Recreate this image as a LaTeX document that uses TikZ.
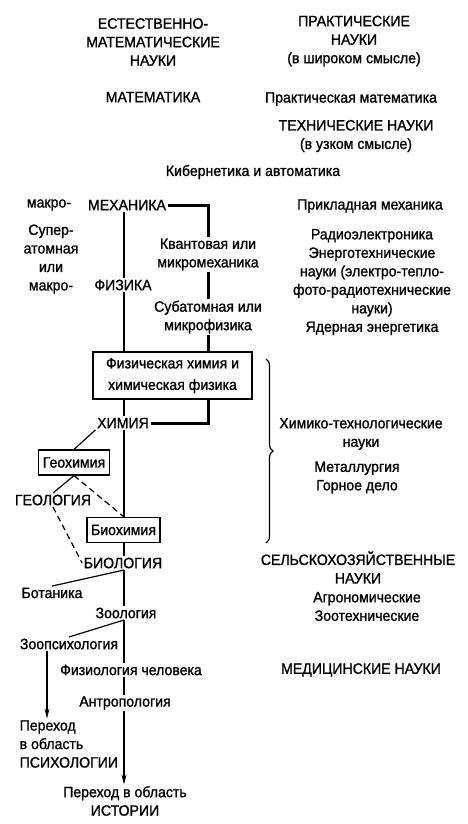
\documentclass[tikz,border=0pt]{standalone}
\usepackage{fontspec}
\setmainfont{Liberation Sans}[FakeStretch=0.94,FakeBold=1.2]
\usetikzlibrary{arrows.meta,decorations.pathreplacing}

\begin{document}
\begin{tikzpicture}[x=1pt,y=-1pt,
		every node/.style={font=\fontsize{15}{18.5}\selectfont,inner sep=1.5pt,align=center},
		box/.style={draw,line width=1.2pt,inner xsep=4pt,minimum height=25pt},
		twig/.style={line width=1.2pt},
		trunk/.style={line width=3pt},
		gap/.style={line width=1.2pt,dash pattern=on 6pt off 4pt},
		down/.style={line width=1.2pt,-{Stealth[length=10pt,width=5pt]}}]
			\useasboundingbox (0,0) rectangle (467,824);
			\coordinate (spine) at (124,0);
			\coordinate (psyline) at (47,0);
			% headings
			\node (nathead) at (153,42) {ЕСТЕСТВЕННО-\\МАТЕМАТИЧЕСКИЕ\\НАУКИ};
			\node (prhead) at (354,41) {ПРАКТИЧЕСКИЕ\\НАУКИ\\(в широком смысле)};
			\node (math) at (153,97) {МАТЕМАТИКА};
			\node (pmath) at (351,99) {Практическая математика};
			\node (tech) at (356,136) {ТЕХНИЧЕСКИЕ НАУКИ\\(в узком смысле)};
			\node (cyb) at (253,172) {Кибернетика и автоматика};
			% left column
			\node (macro) at (49,205) {макро-};
			\node (mech) at (127,205) {МЕХАНИКА};
			\node (supra) at (51,259) {Супер-\\атомная\\или\\макро-};
			\node (phys) at (123,285) {ФИЗИКА};
			\node (qmech) at (208,254.5) {Квантовая или\\микромеханика};
			\node (smic) at (208,317) {Субатомная или\\микрофизика};
			\node[box,minimum width=159pt,minimum height=47pt] (pchem) at (172.5,375.5) {Физическая химия и\\[3pt]химическая физика};
			\node (chem) at (123,423) {ХИМИЯ};
			\node[box] (geo) at (74,462.5) {Геохимия};
			\node (geol) at (53,500) {ГЕОЛОГИЯ};
			\node[box] (bchem) at (123.5,530) {Биохимия};
			\node (bio) at (123,563) {БИОЛОГИЯ};
			\node (bot) at (52,593) {Ботаника};
			\node (zoo) at (126,613) {Зоология};
			\node (zpsy) at (69,644) {Зоопсихология};
			\node (hphys) at (131,670) {Физиология человека};
			\node (anth) at (125,703) {Антропология};
			\node[align=left,anchor=west] (psy) at (18,744) {Переход\\в область\\ПСИХОЛОГИИ};
			\node (hist) at (125,801) {Переход в область\\ИСТОРИИ};
			% right column
			\node (amech) at (370,206) {Прикладная механика};
			\node (radio) at (372,282) {Радиоэлектроника\\Энерготехнические\\науки (электро-тепло-\\фото-радиотехнические\\науки)\\Ядерная энергетика};
			\node (ctech) at (361,434) {Химико-технологические\\науки};
			\node (metal) at (357,477.5) {Металлургия\\Горное дело};
			\node (agri) at (358,567.5) {СЕЛЬСКОХОЗЯЙСТВЕННЫЕ\\НАУКИ};
			\node (agro) at (367,606.5) {Агрономические\\Зоотехнические};
			\node (med) at (361,670) {МЕДИЦИНСКИЕ НАУКИ};
			% main line
			\draw[twig] (mech.south -| spine) -- (phys.north -| spine);
			\draw[twig] (phys.south -| spine) -- (pchem.north -| spine);
			\draw[twig] (pchem.south -| spine) -- (chem.north -| spine);
			\draw[twig] (chem.south -| spine) -- (bchem.north -| spine);
			\draw[twig] (bchem.south -| spine) -- (bio.north -| spine);
			\draw[twig] (bio.south -| spine) -- (zoo.north -| spine);
			\draw[twig] (zoo.south -| spine) -- (hphys.north -| spine);
			\draw[twig] (hphys.south -| spine) -- (anth.north -| spine);
			\draw[down] (anth.south -| spine) -- (hist.north -| spine);
			% micro line
			\draw[trunk] (mech.east) -- (mech.east -| qmech) -- (qmech.north);
			\draw[trunk] (qmech.south) -- (smic.north);
			\draw[trunk] (smic.south) -- (pchem.north -| smic);
			\draw[trunk] (pchem.south -| smic) -- (chem.east -| smic) -- (chem.east);
			% branches
			\draw[twig] (chem.south west) -- (geo.north);
			\draw[twig] (geo.south) -- (geol.north);
			\draw[gap] (geo.south) -- (bchem.north -| spine);
			\draw[gap] (geol.south) -- (bio.west);
			\draw[twig] (bio.south -| spine) -- (bot.north);
			\draw[twig] (zoo.south -| spine) -- (zpsy.north);
			\draw[down] (zpsy.south -| psyline) -- (psy.north -| psyline);
			\draw[twig,decorate,decoration={brace,amplitude=7pt}] (266,359) -- (266,543);
		\end{tikzpicture}
\end{document}
